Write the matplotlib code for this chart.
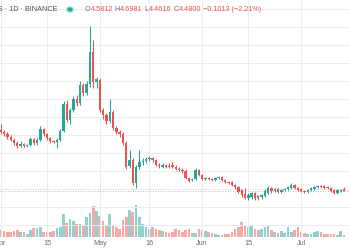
import matplotlib
matplotlib.use("Agg")
import matplotlib.pyplot as plt
import matplotlib.dates as mdates
import numpy as np
import pandas as pd

# daily candles, 1 Apr .. 14 Jul
dates = pd.date_range("2021-04-01", periods=105, freq="D")

opens = [
    7.87, 7.76, 7.65, 7.48, 7.31, 7.15, 6.98, 7.09, 6.98, 7.04,
    7.37, 7.15, 7.31, 7.92, 7.65, 7.42, 7.26, 7.20, 7.31, 7.81,
    9.31, 8.42, 8.98, 9.59, 9.37, 10.37, 9.92, 10.42, 12.20, 10.54,
    10.65, 8.98, 8.70, 8.37, 8.87, 7.98, 7.76, 7.65, 7.15, 5.87,
    6.20, 4.92, 5.81, 6.09, 6.15, 6.26, 6.31, 6.20, 5.92, 5.81,
    5.92, 5.87, 5.92, 5.81, 5.70, 5.65, 5.59, 5.20, 5.09, 5.15,
    5.65, 5.37, 5.15, 5.20, 5.15, 5.09, 5.20, 5.26, 5.09, 4.98,
    4.98, 4.81, 4.70, 4.54, 4.31, 4.09, 4.15, 4.37, 4.20, 4.15,
    4.20, 4.37, 4.65, 4.48, 4.59, 4.42, 4.54, 4.59, 4.65, 4.81,
    4.65, 4.59, 4.48, 4.42, 4.54, 4.59, 4.70, 4.76, 4.76, 4.70,
    4.65, 4.54, 4.37, 4.48, 4.5812]
closes = [
    7.76, 7.65, 7.48, 7.31, 7.15, 6.98, 7.09, 6.98, 7.04, 7.37,
    7.15, 7.31, 7.92, 7.65, 7.42, 7.26, 7.20, 7.31, 7.81, 9.31,
    8.42, 8.98, 9.59, 9.37, 10.37, 9.92, 10.42, 12.20, 10.54, 10.70,
    8.98, 8.70, 8.37, 8.87, 7.98, 7.76, 7.65, 7.15, 5.81, 6.20,
    4.92, 5.81, 6.09, 6.15, 6.26, 6.31, 6.20, 5.92, 5.87, 5.92,
    5.81, 5.81, 5.81, 5.70, 5.65, 5.59, 5.20, 5.04, 5.15, 5.65,
    5.37, 5.15, 5.20, 5.15, 5.09, 5.20, 5.26, 5.09, 4.98, 4.92,
    4.81, 4.70, 4.42, 4.26, 4.09, 4.26, 4.37, 4.09, 4.09, 4.26,
    4.48, 4.65, 4.48, 4.59, 4.42, 4.54, 4.59, 4.70, 4.81, 4.65,
    4.54, 4.48, 4.42, 4.54, 4.65, 4.70, 4.76, 4.70, 4.65, 4.65,
    4.48, 4.37, 4.54, 4.54, 4.48]
highs = [
    8.20, 7.87, 7.76, 7.59, 7.42, 7.26, 7.26, 7.15, 7.09, 7.48,
    7.42, 7.42, 8.09, 7.98, 7.70, 7.48, 7.31, 7.42, 7.92, 9.48,
    9.54, 9.09, 9.76, 9.81, 10.59, 10.48, 10.59, 13.65, 12.87, 10.81,
    10.76, 9.09, 8.81, 9.59, 8.98, 8.09, 7.87, 7.76, 7.26, 6.76,
    6.31, 5.92, 6.76, 6.31, 6.37, 6.42, 6.37, 6.26, 6.04, 6.04,
    5.98, 6.04, 6.09, 5.92, 5.81, 5.76, 5.70, 5.26, 5.20, 5.76,
    5.70, 5.42, 5.26, 5.26, 5.20, 5.26, 5.31, 5.31, 5.15, 5.04,
    5.04, 4.87, 4.76, 4.59, 4.65, 4.37, 4.42, 4.42, 4.26, 4.31,
    4.59, 4.76, 4.70, 4.65, 4.65, 4.59, 4.65, 4.76, 4.92, 4.87,
    4.70, 4.65, 4.54, 4.59, 4.70, 4.76, 4.81, 4.81, 4.81, 4.76,
    4.70, 4.59, 4.59, 4.59, 4.6981]
lows = [
    7.65, 7.54, 7.37, 7.26, 7.04, 6.87, 6.92, 6.92, 6.92, 6.98,
    7.04, 7.04, 7.26, 7.54, 7.31, 7.15, 7.15, 6.87, 7.26, 7.76,
    8.31, 8.20, 8.87, 9.20, 9.26, 9.76, 9.81, 10.26, 10.20, 10.20,
    8.87, 8.48, 8.20, 8.26, 7.87, 7.65, 7.48, 7.04, 5.70, 5.76,
    4.81, 4.65, 5.70, 5.92, 6.04, 6.15, 6.09, 5.87, 5.76, 5.76,
    5.76, 5.76, 5.76, 5.65, 5.59, 5.48, 5.15, 4.98, 5.04, 5.09,
    5.31, 5.09, 5.09, 5.09, 5.04, 5.04, 5.15, 5.04, 4.92, 4.87,
    4.76, 4.59, 4.37, 4.15, 4.04, 3.98, 4.04, 3.98, 3.98, 4.04,
    4.15, 4.31, 4.37, 4.42, 4.37, 4.37, 4.48, 4.54, 4.59, 4.59,
    4.48, 4.42, 4.37, 4.37, 4.48, 4.54, 4.65, 4.65, 4.59, 4.59,
    4.42, 4.31, 4.31, 4.42, 4.4616]
volumes = [
    7, 6, 5, 5, 6, 7, 5, 5, 3, 7,
    9, 9, 10, 5, 5, 5, 6, 9, 10, 23,
    14, 18, 16, 13, 13, 11, 20, 24, 31, 26,
    21, 16, 12, 23, 12, 10, 8, 17, 20, 27,
    25, 32, 20, 13, 10, 8, 10, 8, 7, 6,
    5, 4, 5, 8, 7, 5, 7, 8, 4, 4,
    8, 7, 6, 5, 4, 3, 2, 2, 3, 3,
    5, 8, 10, 15, 12, 10, 12, 8, 7, 8,
    10, 12, 7, 5, 4, 6, 4, 10, 5, 7,
    10, 5, 4, 3, 3, 5, 6, 5, 3, 3,
    3, 3, 2, 6, 2]

tick_dates = ["2021-04-01", "2021-04-15", "2021-05-01", "2021-05-16",
              "2021-06-01", "2021-06-15", "2021-07-01"]
tick_labels = ["Apr", "15", "May", "16", "Jun", "15", "Jul"]

last_price = 4.48
header_left = "S · 1D · BINANCE"
header_ohlc = [("O", "4.5812"), (" H", "4.6981"), (" L", "4.4616"),
               (" C", "4.4800"), (" ", "−0.1013 (−2.21%)")]

UP = "#26a69a"
DOWN = "#ef5350"
UP_VOL = "#92d2cc"
DOWN_VOL = "#f7a9a7"
GRID = "#e9ecf2"

plt.rcParams["font.family"] = ["Liberation Sans", "DejaVu Sans"]

fig = plt.figure(figsize=(3.5, 2.5), dpi=100)
fig.patch.set_facecolor("white")
ax = fig.add_axes([0, 0.052, 1, 0.948])
axv = ax.twinx()

x = mdates.date2num(dates)
o = np.array(opens)
c = np.array(closes)
up = c >= o
cols = np.where(up, UP, DOWN)
vcols = np.where(up, UP_VOL, DOWN_VOL)

# volume underneath
axv.bar(x, volumes, width=0.8, color=vcols, linewidth=0, zorder=1)
axv.set_ylim(0, 240)
axv.set_yticks([])

# candles
ax.vlines(x, lows, highs, colors=cols, linewidth=0.75, zorder=3)
body_lo = np.minimum(o, c)
body_h = np.maximum(np.abs(c - o), 0.04)
ax.bar(x, body_h, bottom=body_lo, width=0.72, color=cols, linewidth=0, zorder=4)

ax.axhline(last_price, color=DOWN, linewidth=0.6, linestyle=(0, (1, 2)), alpha=0.7, zorder=2)

ax.set_zorder(axv.get_zorder() + 1)
ax.patch.set_visible(False)

ax.set_ylim(1.92, 15.09)
ax.set_xlim(x[0] - 0.24, x[0] + 105.8)
ax.set_yticks(np.arange(2.59, 15, 1.0))
ax.set_yticklabels([])
ax.set_xticks(mdates.date2num(pd.to_datetime(tick_dates)))
ax.set_xticklabels(tick_labels)
ax.tick_params(axis="x", length=0, pad=2.5, labelsize=5.2, labelcolor="#6a6d78")
ax.tick_params(axis="y", length=0)
ax.grid(True, color=GRID, linewidth=0.7)
ax.set_axisbelow(True)
for a in (ax, axv):
    for s in a.spines.values():
        s.set_visible(False)

# header line
W, H = 350, 250
hy = 1 - 9.5 / H
fig.text(57 / W, hy, header_left, ha="right", va="center", fontsize=5.2, color="#4a4d57")
fig.patches.append(plt.Circle((70 / W, hy), 3.8 / W, transform=fig.transFigure,
                              color="#bfe6e2", figure=fig))
fig.patches.append(plt.Circle((70 / W, hy), 2.0 / W, transform=fig.transFigure,
                              color=UP, figure=fig))
r = fig.canvas.get_renderer()
px = 85
for lab, val in header_ohlc:
    for txt, col in ((lab, "#6a6d78"), (val, DOWN)):
        t = fig.text(px / W, hy, txt, ha="left", va="center", fontsize=5.2, color=col)
        px += t.get_window_extent(r).width

fig.savefig("out.png", dpi=100)
